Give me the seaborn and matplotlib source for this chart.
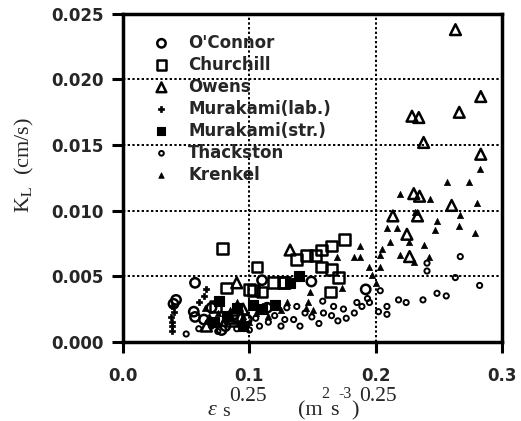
import matplotlib
matplotlib.use("Agg")
import matplotlib.pyplot as plt
import seaborn as sns
import numpy as np

sns.set_theme(style="white")
plt.rcParams['font.family'] = ['DejaVu Sans']
plt.rcParams['mathtext.fontset'] = 'stix'

# ---- data ----
oconnor_x = [0.042, 0.040, 0.057, 0.056, 0.057, 0.064, 0.078, 0.081, 0.098, 0.110, 0.114, 0.149, 0.192, 0.070, 0.088]
oconnor_y = [0.0032, 0.0029, 0.0045, 0.0023, 0.0019, 0.0017, 0.0009, 0.0012, 0.0017, 0.0047, 0.0026, 0.0046, 0.0040, 0.0026, 0.0021]

churchill_x = [0.079, 0.106, 0.082, 0.103, 0.073, 0.119, 0.127, 0.175, 0.165, 0.157, 0.152, 0.145, 0.1375, 0.165, 0.157, 0.1705, 0.164, 0.110, 0.100, 0.128, 0.090, 0.086]
churchill_y = [0.0071, 0.0057, 0.0041, 0.0039, 0.0027, 0.0045, 0.0045, 0.0078, 0.0073, 0.0070, 0.0066, 0.0066, 0.0063, 0.0055, 0.0057, 0.0049, 0.0038, 0.0038, 0.0040, 0.0045, 0.0020, 0.0016]

owens_x = [0.263, 0.283, 0.2286, 0.234, 0.266, 0.2378, 0.283, 0.230, 0.2346, 0.260, 0.2135, 0.233, 0.2246, 0.2267, 0.1322, 0.090, 0.066, 0.095, 0.085]
owens_y = [0.0238, 0.0187, 0.0172, 0.0171, 0.0175, 0.0152, 0.0143, 0.0113, 0.0111, 0.0104, 0.0096, 0.0096, 0.0082, 0.0065, 0.0070, 0.0045, 0.0012, 0.0025, 0.0018]

mlab_x = [0.039, 0.039, 0.039, 0.038, 0.040, 0.039, 0.066, 0.064, 0.060]
mlab_y = [0.0008, 0.0012, 0.0015, 0.0019, 0.0023, 0.0027, 0.0040, 0.0035, 0.0030]

mstr_x = [0.139, 0.132, 0.103, 0.090, 0.082, 0.072, 0.095, 0.110, 0.120, 0.076]
mstr_y = [0.0050, 0.0045, 0.0028, 0.0026, 0.0020, 0.0015, 0.0012, 0.0025, 0.0028, 0.0031]

thack_x = [0.2668, 0.2405, 0.2405, 0.2629, 0.2821, 0.2484, 0.2557, 0.2373, 0.218, 0.224, 0.2088, 0.2088, 0.2021,
           0.2035, 0.195, 0.1934, 0.189, 0.1375, 0.144, 0.1494, 0.1586, 0.165, 0.1666, 0.1744, 0.1766, 0.158,
           0.1296, 0.128, 0.135, 0.120, 0.115, 0.108, 0.105, 0.125, 0.140, 0.155, 0.170, 0.185, 0.183, 0.090,
           0.095, 0.075, 0.070, 0.060, 0.050, 0.080, 0.100]
thack_y = [0.0065, 0.0060, 0.0054, 0.0049, 0.0043, 0.0037, 0.0035, 0.0032, 0.0032, 0.0030, 0.0027, 0.0021, 0.0023,
           0.0039, 0.0030, 0.0033, 0.0027, 0.0027, 0.0022, 0.0019, 0.0022, 0.0020, 0.0027, 0.0025, 0.0018, 0.0031,
           0.0026, 0.0017, 0.0017, 0.0020, 0.0015, 0.0012, 0.0018, 0.0012, 0.0012, 0.0014, 0.0016, 0.0030, 0.0022, 0.0010,
           0.0015, 0.0008, 0.0012, 0.0010, 0.0006, 0.0014, 0.0009]

krenkel_x = [0.2827, 0.2563, 0.2734, 0.2188, 0.2425, 0.280, 0.2312, 0.2668, 0.2484, 0.2655, 0.2088, 0.2167, 0.247,
             0.2787, 0.2114, 0.2259, 0.2378, 0.2048, 0.2035, 0.2193, 0.2418, 0.2299, 0.1877, 0.1824, 0.1943, 0.1969,
             0.203, 0.1877, 0.169, 0.173, 0.148, 0.1467, 0.145, 0.150, 0.130, 0.125, 0.110, 0.105, 0.090, 0.085,
             0.080, 0.075, 0.070, 0.065, 0.068, 0.095, 0.100, 0.115, 0.200]
krenkel_y = [0.0132, 0.0122, 0.0122, 0.0113, 0.0109, 0.0106, 0.0099, 0.0097, 0.0092, 0.0088, 0.0087, 0.0087, 0.0085,
             0.0083, 0.0076, 0.0076, 0.0074, 0.0071, 0.0066, 0.0066, 0.0065, 0.0061, 0.0073, 0.0065, 0.0057, 0.0051,
             0.0057, 0.0065, 0.0065, 0.0041, 0.0038, 0.0030, 0.0026, 0.0024, 0.0030, 0.0024, 0.0027, 0.0022, 0.0030, 0.0024,
             0.0018, 0.0022, 0.0016, 0.0026, 0.0020, 0.0020, 0.0015, 0.0020, 0.0045]

x_ticks = [0.0, 0.1, 0.2, 0.3]
x_ticklabels = ['0.0', '0.1', '0.2', '0.3']
y_ticks = [0.000, 0.005, 0.010, 0.015, 0.020, 0.025]
y_ticklabels = ['0.000', '0.005', '0.010', '0.015', '0.020', '0.025']

# ---- figure ----
W, H = 521, 421
fig = plt.figure(figsize=(W / 100, H / 100), dpi=100)
ax = fig.add_axes([0.236, 0.188, 0.728, 0.779])

common = dict(ax=ax, legend=True)
sns.scatterplot(x=oconnor_x, y=oconnor_y, marker='o', s=45, facecolor='none', edgecolor='black', linewidth=1.8, label="O'Connor", **common)
sns.scatterplot(x=churchill_x, y=churchill_y, marker='s', s=60, facecolor='none', edgecolor='black', linewidth=1.8, label='Churchill', **common)
sns.scatterplot(x=owens_x, y=owens_y, marker='^', s=60, facecolor='none', edgecolor='black', linewidth=1.8, label='Owens', **common)
sns.scatterplot(x=mlab_x, y=mlab_y, marker='P', s=22, color='black', edgecolor='black', linewidth=0.5, label='Murakami(lab.)', **common)
sns.scatterplot(x=mstr_x, y=mstr_y, marker='s', s=50, color='black', edgecolor='black', linewidth=0.8, label='Murakami(str.)', **common)
sns.scatterplot(x=thack_x, y=thack_y, marker='o', s=14, facecolor='none', edgecolor='black', linewidth=1.4, label='Thackston', **common)
sns.scatterplot(x=krenkel_x, y=krenkel_y, marker='^', s=20, color='black', edgecolor='black', linewidth=0.5, label='Krenkel', **common)

ax.set_xlim(0, 0.3)
ax.set_ylim(0, 0.025)
ax.set_xticks(x_ticks)
ax.set_yticks(y_ticks)
ax.set_xticklabels(x_ticklabels, fontsize=12, fontweight='bold')
ax.set_yticklabels(y_ticklabels, fontsize=12, fontweight='bold')

ax.grid(True, linestyle=(0, (1.2, 1.2)), color='black', linewidth=1.4)
for sp in ax.spines.values():
    sp.set_visible(True)
    sp.set_color('black')
    sp.set_linewidth(2.5)
ax.tick_params(axis='both', direction='out', length=8, width=2.2, color='black', pad=6, bottom=True, left=True)
ax.tick_params(axis='x', pad=10)

# y label
ax.set_ylabel(r'K$_{\mathrm{L}}$  (cm/s)', fontsize=16, family='Liberation Serif')
ax.yaxis.set_label_coords(-0.228, 0.54)

# x label built from pieces so the superscripts keep their large size
ax.set_xlabel('')
renderer = fig.canvas.get_renderer()
pieces = [  # text, baseline (px from top), size, style, gap after (px)
    ('\u03b5', 415, 16, 'italic', 5),
    ('s', 416, 14, 'normal', 0),
    ('0.25', 401, 15.5, 'normal', 31),
    ('(m', 415, 16, 'normal', -1),
    ('2', 398, 11.5, 'normal', 0),
    ('s', 415, 16, 'normal', 0),
    ('-3', 398, 11.5, 'normal', 0),
    (')', 415, 16, 'normal', 0),
    ('0.25', 401, 15.5, 'normal', 0),
]
xpos = 208
for txt, base, size, style, gap in pieces:
    t = fig.text(xpos / W, (H - base) / H, txt, fontsize=size, family='Liberation Serif',
                 style=style, ha='left', va='baseline')
    bb = t.get_window_extent(renderer)
    xpos = bb.x1 + gap

leg = ax.legend(loc='upper left', bbox_to_anchor=(0.04, 0.96), frameon=False, fontsize=12,
                handletextpad=0.6, labelspacing=0.24, borderaxespad=0, markerscale=0.9)
for t in leg.get_texts():
    t.set_fontweight('bold')

fig.savefig('out.png', dpi=100, facecolor='white')
